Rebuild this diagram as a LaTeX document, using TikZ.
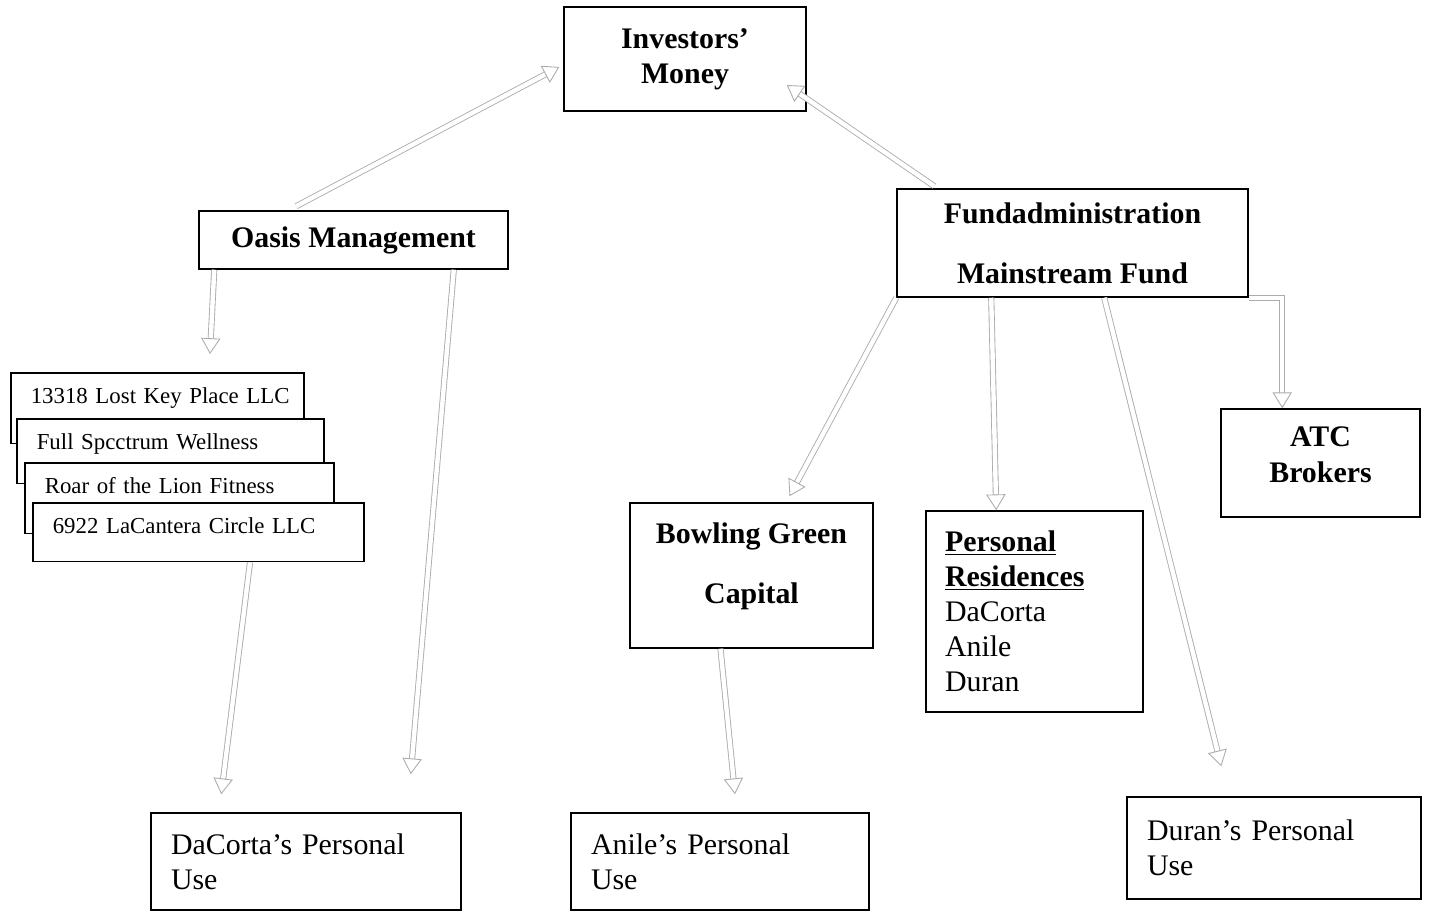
\documentclass[tikz,border=0pt]{standalone}
\usepackage{fontspec}
\setmainfont{Liberation Serif}
\usetikzlibrary{arrows.meta,calc}
\begin{document}
\begin{tikzpicture}[x=0.02cm,y=-0.02cm,
  box/.style={draw,line width=0.9pt,fill=white,inner sep=0pt},
  hd/.style={font=\fontsize{17}{20}\selectfont\bfseries,align=center},
  txt/.style={font=\fontsize{17}{20}\selectfont,align=left,inner xsep=0.4cm},
  llc/.style={box,anchor=north west,font=\fontsize{13}{15}\selectfont,align=left,inner xsep=0.4cm,inner ysep=0pt,text height=17.6pt},
  flow/.style={draw=gray!65,line width=0.5pt,double=white,double distance=2.5pt,-{Triangle[open,length=9pt,width=11pt]}}]
\useasboundingbox (0,0) rectangle (1431,911);
\node[box,hd,minimum width=4.84cm,minimum height=2.08cm] (inv) at (685,59) {Investors’\\Money};
\node[box,hd,minimum width=6.18cm,minimum height=1.16cm] (oasis) at (353.5,240) {Oasis Management};
\node[box,hd,minimum width=7.02cm,minimum height=2.16cm] (fund) at (1072.5,243) {Fundadministration\\[14pt]Mainstream Fund};
% the four companies, stacked
\node[llc,text width=5.06cm,text depth=22.7pt] (lk) at (10,372) {\mbox{13318 Lost Key Place LLC}};
\node[llc,text width=5.34cm,text depth=19.3pt] (fs) at (16,418) {Full Spcctrum Wellness};
\node[llc,text width=5.38cm,text depth=22.7pt] (rl) at (24,462) {Roar of the Lion Fitness};
\node[llc,text width=5.82cm,text depth=15.9pt] (lc) at (32,502) {6922 LaCantera Circle LLC};
\node[box,hd,minimum width=4.86cm,minimum height=2.9cm,text depth=14pt] (bg) at (751.5,575.5) {Bowling Green\\[14pt]Capital};
\node[box,txt,text width=3.58cm,inner xsep=0.38cm,minimum height=4.02cm] (pr) at (1034.5,611.5)
  {\underline{\textbf{Personal}}\\\underline{\textbf{Residences}}\\DaCorta\\Anile\\Duran};
\node[box,hd,minimum width=3.98cm,minimum height=2.16cm,text depth=9.5pt] (atc) at (1320.5,463) {ATC\\Brokers};
\node[box,txt,text width=5.4cm,minimum height=1.94cm] (dac) at (306,861.5) {DaCorta’s Personal\\Use};
\node[box,txt,text width=5.16cm,minimum height=1.94cm] (ani) at (720,861.5) {Anile’s Personal\\Use};
\node[box,txt,text width=5.08cm,minimum height=2.04cm] (dur) at (1274,848) {Duran’s Personal\\Use};
% money flows
\draw[flow] ($(oasis.north west)+(98,-4)$) -- ($(inv.west)+(-4,8)$);
\draw[flow] ($(fund.north west)+(38,-2)$) -- ($(inv.east)+(-20,26)$);
\draw[flow] ($(oasis.south west)+(16,0)$) -- ($(lk.north west)+(200,-18)$);
\draw[flow] ($(oasis.south east)+(-55,0)$) -- ($(dac.north east)+(-51,-38)$);
\draw[flow] ($(lc.south west)+(218,0)$) -- ($(dac.north west)+(71,-18)$);
\draw[flow] (fund.south west) -- ($(bg.north)+(38,-6)$);
\draw[flow] ($(fund.south west)+(95,0)$) -- ($(pr.north west)+(71,0)$);
\draw[flow] ($(fund.south west)+(208,0)$) -- ($(dur.north west)+(95,-30)$);
\draw[flow] (fund.south east) -| ($(atc.north west)+(62,0)$);
\draw[flow] ($(bg.south)+(-31,0)$) -- ($(ani.north)+(15,-18)$);
\end{tikzpicture}
\end{document}
